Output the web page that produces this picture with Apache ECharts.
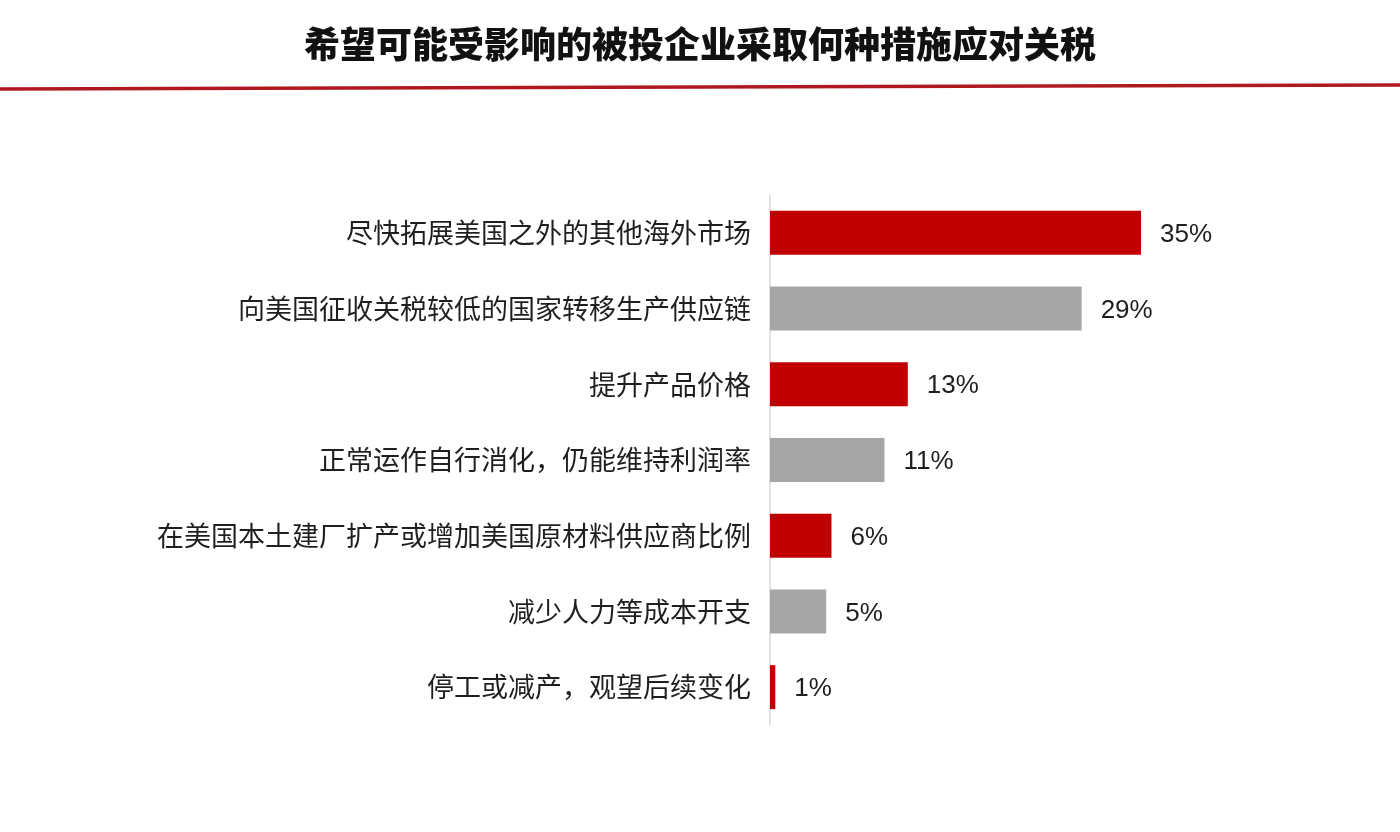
<!DOCTYPE html>
<html>
<head>
<meta charset="utf-8">
<script src="https://cdn.jsdelivr.net/npm/echarts@6/dist/echarts.min.js"></script>
<style>
  html, body { margin: 0; padding: 0; background: #fff; }
  #chart { width: 1400px; height: 832px; }
</style>
</head>
<body>
<div id="chart"></div>
<script>
// measures, top to bottom
var categories = [
    '尽快拓展美国之外的其他海外市场',
    '向美国征收关税较低的国家转移生产供应链',
    '提升产品价格',
    '正常运作自行消化，仍能维持利润率',
    '在美国本土建厂扩产或增加美国原材料供应商比例',
    '减少人力等成本开支',
    '停工或减产，观望后续变化'
];
// share of respondents (%)
var shares = [35, 29.4, 13, 10.8, 5.8, 5.3, 0.5];
// printed labels
var shareLabels = ['35%', '29%', '13%', '11%', '6%', '5%', '1%'];

var RED = '#c00000';
var GRAY = '#a6a6a6';
var barColors = [RED, GRAY, RED, GRAY, RED, GRAY, RED];

var chart = echarts.init(document.getElementById('chart'));

var barData = [];
for (var i = 0; i < shares.length; i++) {
    barData.push({
        value: shares[i],
        itemStyle: { color: barColors[i] }
    });
}

chart.setOption({
    backgroundColor: '#ffffff',
    animation: false,
    title: {
        text: '希望可能受影响的被投企业采取何种措施应对关税',
        left: 'center',
        top: 21,
        textStyle: {
            fontFamily: 'Noto Sans CJK SC',
            fontWeight: 900,
            fontSize: 36,
            color: '#111111'
        }
    },
    graphic: [{
        type: 'line',
        shape: { x1: 0, y1: 89, x2: 1400, y2: 85 },
        style: { stroke: '#b01820', lineWidth: 3.5 }
    }],
    grid: {
        left: 770,
        right: 206,
        top: 195,
        height: 530,
        containLabel: false
    },
    xAxis: {
        type: 'value',
        min: 0,
        max: 40,
        show: false
    },
    yAxis: {
        type: 'category',
        inverse: true,
        data: categories,
        axisLine: { show: true, lineStyle: { color: '#d9d9d9', width: 1.5 } },
        axisTick: { show: false },
        axisLabel: {
            margin: 19,
            fontFamily: 'Noto Sans CJK SC',
            fontSize: 27,
            color: '#1f1f1f'
        }
    },
    series: [{
        type: 'bar',
        data: barData,
        barWidth: 44,
        label: {
            show: true,
            position: 'right',
            distance: 19,
            fontFamily: 'Liberation Sans',
            fontSize: 26,
            color: '#1f1f1f',
            offset: [0, 2],
            formatter: function (p) { return shareLabels[p.dataIndex]; }
        }
    }]
});
</script>
</body>
</html>
